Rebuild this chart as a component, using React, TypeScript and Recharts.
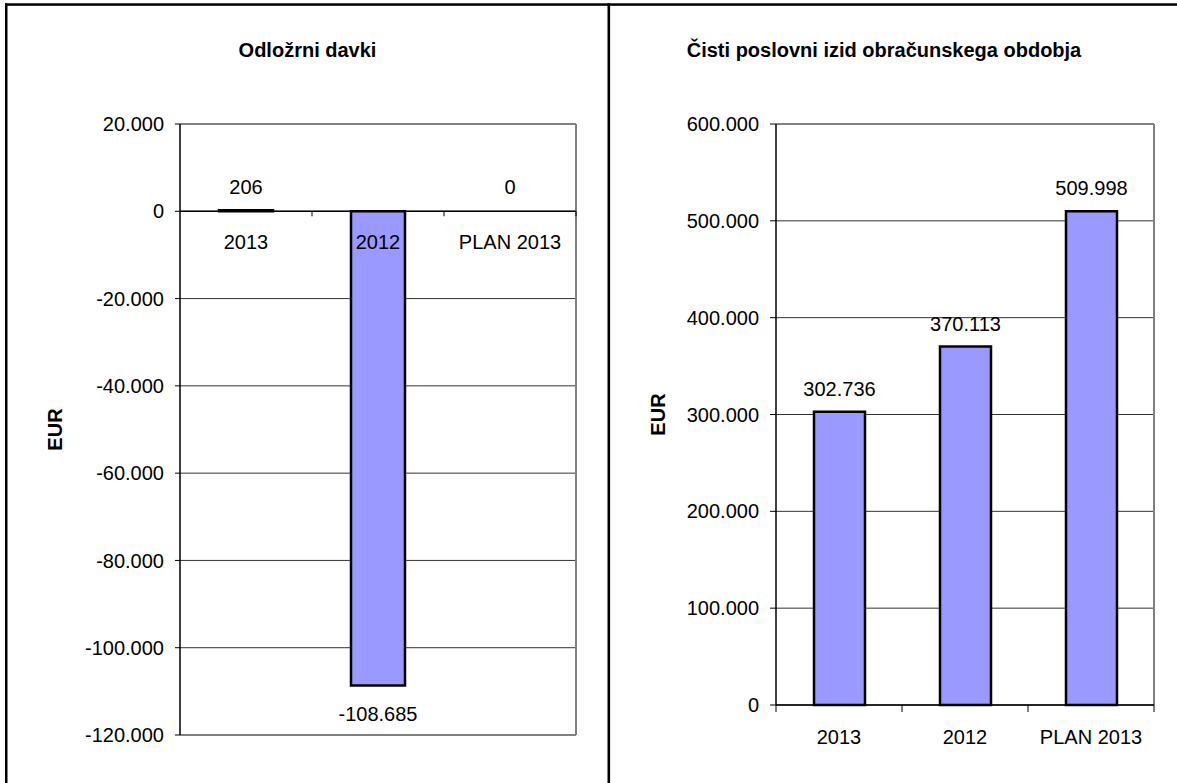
import React from 'react';
import {
  BarChart,
  Bar,
  XAxis,
  YAxis,
  CartesianGrid,
  ReferenceLine,
  LabelList,
  Rectangle,
} from 'recharts';

// ---- data ----
const categories = ['2013', '2012', 'PLAN 2013'];
const deferredTaxValues = [206, -108685, 0];
const netResultValues = [302736, 370113, 509998];
const deferredTaxTicks = [20000, 0, -20000, -40000, -60000, -80000, -100000, -120000];
const netResultTicks = [0, 100000, 200000, 300000, 400000, 500000, 600000];
const deferredTaxDomain = [-120000, 20000];
const netResultDomain = [0, 600000];

const leftTitle = 'Odložrni davki';
const rightTitle = 'Čisti poslovni izid obračunskega obdobja';
const axisTitle = 'EUR';

// ---- styles ----
const FONT = '"Liberation Sans", Arial, Helvetica, sans-serif';
const BAR_FILL = '#9999FF';
const GRID = '#333333';
const BORDER = '#808080';
const FS = 20;

function fmt(v: number): string {
  const s = Math.round(Math.abs(v))
    .toString()
    .replace(/\B(?=(\d{3})+(?!\d))/g, '.');
  return (v < 0 ? '-' : '') + s;
}

const leftData = categories.map((c, i) => ({ cat: c, value: deferredTaxValues[i] }));
const rightData = categories.map((c, i) => ({ cat: c, value: netResultValues[i] }));

const ValueLabel = (props: any) => {
  const { x, y, width, height, value } = props;
  const v = Number(value);
  const cx = Number(x) + Number(width) / 2;
  const y0 = Number(y);
  const h = Number(height) || 0;
  const top = Math.min(y0, y0 + h);
  const bottom = Math.max(y0, y0 + h);
  const ty = v >= 0 ? top - 16 : bottom + 35;
  return (
    <text x={cx} y={ty} textAnchor="middle" fontSize={FS} fontFamily={FONT} fill="#000">
      {fmt(v)}
    </text>
  );
};

// draws nothing for a zero value (bar still exists so its label is placed)
const BarShape = (props: any) => {
  if (Number(props.value) === 0) return <g />;
  return <Rectangle {...props} />;
};

const EurLabel = (props: any) => {
  const vb = props.viewBox || {};
  const cx = (vb.x || 0) + props.offsetX;
  const cy = (vb.y || 0) + (vb.height || 0) / 2;
  return (
    <text
      x={cx}
      y={cy}
      transform={`rotate(-90, ${cx}, ${cy})`}
      textAnchor="middle"
      dominantBaseline="central"
      fontSize={FS}
      fontWeight="bold"
      fontFamily={FONT}
      fill="#000"
    >
      {axisTitle}
    </text>
  );
};

// category labels and boundary tick marks placed on the zero line
const ZeroAxisLabels = (props: any) => {
  const vb = props.viewBox || {};
  const x0 = vb.x || 0;
  const y0 = vb.y || 0;
  const w = vb.width || 0;
  const band = w / categories.length;
  return (
    <g>
      {categories.map((c, i) => (
        <text
          key={c}
          x={x0 + band * (i + 0.5)}
          y={y0 + 38}
          textAnchor="middle"
          fontSize={FS}
          fontFamily={FONT}
          fill="#000"
        >
          {c}
        </text>
      ))}
      {categories.map((c, i) => (
        <line
          key={'t' + c}
          x1={x0 + band * (i + 1)}
          x2={x0 + band * (i + 1)}
          y1={y0}
          y2={y0 + 5}
          stroke="#000"
          strokeWidth={1}
        />
      ))}
    </g>
  );
};

const CatTick = (props: any) => {
  const { x, y, payload, index } = props;
  const half =
    payload && payload.offset ? payload.offset : (props.width || 0) / categories.length / 2;
  const n = categories.length;
  return (
    <g>
      <text x={x} y={y + 39} textAnchor="middle" fontSize={FS} fontFamily={FONT} fill="#000">
        {payload.value}
      </text>
      <line x1={x - half} x2={x - half} y1={y} y2={y + 7} stroke="#000" strokeWidth={1} />
      {index === n - 1 ? (
        <line x1={x + half} x2={x + half} y1={y} y2={y + 7} stroke="#000" strokeWidth={1} />
      ) : null}
    </g>
  );
};

const tickStyle = { fill: '#000', fontSize: FS, fontFamily: FONT };
const lastCat = categories[categories.length - 1];

export default function App() {
  return (
    <div
      style={{
        position: 'absolute',
        left: 0,
        top: 0,
        width: 1177,
        height: 783,
        background: '#fff',
        overflow: 'hidden',
      }}
    >
      <div style={{ position: 'absolute', left: 0, top: 0 }}>
        <BarChart
          width={608}
          height={783}
          data={leftData}
          margin={{ top: 124, right: 32, bottom: 48, left: 0 }}
          barSize={54}
        >
          <CartesianGrid vertical={false} stroke={GRID} strokeWidth={1} />
          <XAxis dataKey="cat" hide />
          <YAxis
            type="number"
            domain={deferredTaxDomain}
            ticks={deferredTaxTicks}
            interval={0}
            tickFormatter={fmt}
            width={180}
            tickSize={5}
            tickMargin={11}
            axisLine={{ stroke: '#000', strokeWidth: 1.5 }}
            tickLine={{ stroke: '#000' }}
            tick={tickStyle}
            label={<EurLabel offsetX={55} />}
          />
          <ReferenceLine y={deferredTaxDomain[1]} stroke={BORDER} strokeWidth={2} ifOverflow="visible" />
          <ReferenceLine y={deferredTaxDomain[0]} stroke={BORDER} strokeWidth={2} ifOverflow="visible" />
          <ReferenceLine x={lastCat} position="end" stroke={BORDER} strokeWidth={2} ifOverflow="visible" />
          <Bar
            dataKey="value"
            fill={BAR_FILL}
            stroke="#000"
            strokeWidth={2.5}
            minPointSize={1}
            shape={<BarShape />}
            isAnimationActive={false}
          >
            <LabelList dataKey="value" content={ValueLabel} />
          </Bar>
          <ReferenceLine y={0} stroke="#000" strokeWidth={1.5} label={<ZeroAxisLabels />} />
        </BarChart>
      </div>

      <div style={{ position: 'absolute', left: 610, top: 0 }}>
        <BarChart
          width={567}
          height={783}
          data={rightData}
          margin={{ top: 124, right: 23, bottom: 0, left: 0 }}
          barSize={51}
        >
          <CartesianGrid vertical={false} stroke={GRID} strokeWidth={1} />
          <ReferenceLine y={netResultDomain[1]} stroke={BORDER} strokeWidth={2} ifOverflow="visible" />
          <ReferenceLine x={lastCat} position="end" stroke={BORDER} strokeWidth={2} ifOverflow="visible" />
          <XAxis
            dataKey="cat"
            height={78}
            interval={0}
            axisLine={{ stroke: '#000', strokeWidth: 1.5 }}
            tickLine={false}
            tickSize={0}
            tickMargin={0}
            tick={<CatTick />}
          />
          <YAxis
            type="number"
            domain={netResultDomain}
            ticks={netResultTicks}
            interval={0}
            tickFormatter={fmt}
            width={166}
            tickSize={6}
            tickMargin={11}
            axisLine={{ stroke: '#000', strokeWidth: 1.5 }}
            tickLine={{ stroke: '#000' }}
            tick={tickStyle}
            label={<EurLabel offsetX={48} />}
          />
          <Bar
            dataKey="value"
            fill={BAR_FILL}
            stroke="#000"
            strokeWidth={2.5}
            isAnimationActive={false}
          >
            <LabelList dataKey="value" content={ValueLabel} />
          </Bar>
        </BarChart>
      </div>

      <svg
        width={1177}
        height={783}
        style={{ position: 'absolute', left: 0, top: 0, pointerEvents: 'none' }}
      >
        <rect x={5} y={3.3} width={1172} height={2.5} fill="#000" />
        <rect x={5} y={3.3} width={2.5} height={780} fill="#000" />
        <rect x={607.5} y={3.3} width={2.6} height={780} fill="#000" />
        <text
          x={307.5}
          y={57}
          textAnchor="middle"
          fontSize={FS}
          fontWeight="bold"
          fontFamily={FONT}
          fill="#000"
        >
          {leftTitle}
        </text>
        <text
          x={884}
          y={57}
          textAnchor="middle"
          fontSize={FS}
          fontWeight="bold"
          fontFamily={FONT}
          fill="#000"
        >
          {rightTitle}
        </text>
      </svg>
    </div>
  );
}
